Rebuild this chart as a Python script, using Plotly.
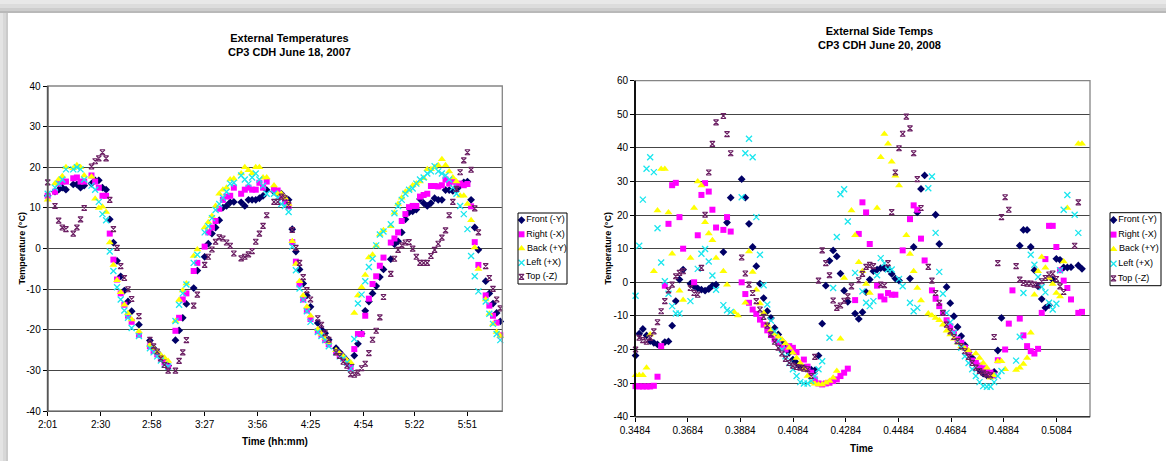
import plotly.graph_objects as go

W, H = 1166, 461

# ---------------- data: chart 1 (June 18, 2007) ----------------
series_names = ["Front (-Y)", "Right (-X)", "Back (+Y)", "Left (+X)", "Top (-Z)"]
tick_labels_1 = ["2:01", "2:30", "2:58", "3:27", "3:56", "4:25", "4:54", "5:22", "5:51"]

# time in minutes after midnight
time_1 = [
    121, 125, 127, 129, 131, 135, 137, 139, 141, 145,
    147, 149, 151, 153, 155, 157, 159, 161, 163, 165,
    167, 171, 177, 179, 181, 183, 185, 187, 191, 193,
    195, 197, 201, 203, 207, 209, 211, 213, 215, 217,
    219, 221, 223, 227, 229, 231, 233, 235, 237, 239,
    241, 245, 247, 249, 251, 253, 255, 257, 259, 261,
    263, 265, 269, 271, 273, 275, 279, 281, 283, 285,
    287, 289, 291, 293, 295, 297, 299, 301, 303, 305,
    309, 311, 313, 315, 317, 319, 321, 323, 325, 327,
    329, 331, 333, 335, 337, 339, 341, 343, 345, 347,
    349, 351, 353, 355, 357, 361, 363, 365, 367, 369,
]
front_1 = [
    13, 14, 14.5, 15, 14.5, 15.8, 15.8, 15, 15.5, 16,
    16.8, 16.8, 15, 14.5, 7.2, 1.5, -3, -6.8, -10.3, -13,
    -15.4, -18.7, -22.6, -24.5, -25.5, -26.5, -27.5, -28.8, -22.5, -20.1,
    -17, -13.6, -9.7, -5.4, -2, 1.2, 3.7, 5.2, 7, 10.1,
    10.5, 11.4, 11.5, 11.4, 10.5, 12, 12, 12, 12.4, 13,
    14.4, 14, 13.7, 13.5, 12.5, 12, 4.8, -0.7, -5.1, -8.6,
    -11.5, -14.3, -18.3, -19.9, -20.8, -22.4, -24.5, -25.5, -26.5, -27.5,
    -28.5, -26.3, -23.4, -20.9, -15.3, -13, -11, -9.2, -7, -5.1,
    -2.6, 1.1, 1.8, 4, 7.2, 8.9, 9.2, 9.6, 12.2, 11.2,
    10.5, 11.2, 12.4, 12, 12, 14.4, 14.4, 14.2, 14.6, 15.5,
    16.3, 16.5, 12, 5.2, -0.3, -8, -11, -13.5, -15.8, -17.9,
]
right_1 = [
    13, 14, 16, 16.5, 16.5, 17.3, 17.5, 16.5, 16.5, 18,
    16.5, 15, 13, 13, 3.7, -2.7, -7.6, -11, -13.8, -16.5,
    -18, -21.2, -24, -25.2, -26, -27, -28, -29, -20.2, -17,
    -12.5, -11, -5.5, -3.5, 0.5, 4, 5.2, 6.8, 9.8, 12,
    12.8, 13, 15, 13.5, 14.5, 15, 14.5, 14.5, 16.2, 15,
    16.5, 14.5, 14.3, 13, 11.5, 10.4, 1.6, -3.2, -8.8, -12.5,
    -15.2, -17.3, -20.3, -21.2, -22.5, -23.5, -25.5, -26.2, -27, -28,
    -29.3, -24.7, -21, -21, -16.5, -12.3, -8.7, -6.8, -4.2, -2.2,
    1.5, 2.5, 4, 6.8, 8.5, 10.2, 10.5, 10.5, 12.8, 13.2,
    13.5, 15.4, 15.4, 15.3, 15.6, 17, 16, 16.5, 15.8, 16,
    15.6, 15.9, 10.4, 1.6, -4, -11.5, -14, -16.5, -18.2, -21.3,
]
back_1 = [
    12, 16, 17, 17.8, 20, 19.8, 20.5, 20, 18, 17.7,
    12.3, 10, 10.3, 9, 1.5, -4, -7.8, -10.7, -13.8, -15.9,
    -17.4, -20.4, -23.7, -24.5, -25.4, -26.2, -26.8, -27.6, -17.8, -12.6,
    -10.3, -8.6, -1.8, -0.2, 5.2, 6.5, 8, 10.5, 13.5, 14.5,
    15, 17, 17.2, 18.5, 20, 19.3, 18.5, 20, 20, 17.5,
    17.5, 15.5, 13.5, 13.5, 12.5, 11, 1.8, -3.8, -8, -11.5,
    -14.3, -16.5, -19.8, -21, -22, -23, -25, -25.8, -26.5, -27.5,
    -28, -15.8, -11.5, -9.5, -6.5, -2.2, -1.5, 0.7, 3.5, 4.5,
    5.5, 8.8, 11, 12.5, 14, 14.5, 15.5, 16, 16.5, 17.3,
    19.5, 19.5, 20, 20.5, 22, 20.5, 19, 17.5, 16.5, 13,
    13, 11, 7, 0.3, -5, -12.5, -16, -18.5, -20.5, -21.5,
]
left_1 = [
    13.5, 15, 16, 17, 19.5, 19.5, 20, 19.5, 17, 15.5,
    14.5, 11.5, 8.5, 7, -0.7, -5.5, -9.5, -12.5, -15.2, -17,
    -19.5, -21.5, -24.5, -25.5, -26.5, -27.5, -28.5, -29, -17.8, -13.8,
    -11, -8.8, -3.5, -1.5, 4, 5.5, 7.5, 9.5, 11, 12.5,
    14, 16, 16.2, 18, 17, 16, 17.5, 18.5, 17, 15.5,
    13.5, 13.5, 12.5, 11, 10.5, 9, 0.5, -5.3, -9.8, -12.6,
    -15.4, -18, -20.5, -21.5, -22.5, -24, -25.5, -26.5, -27, -28,
    -29.5, -22.2, -13.5, -11.3, -8, -4.5, -2.5, 0.8, 3.5, 4.2,
    6, 8.7, 10.5, 12, 13.5, 14.5, 14.8, 16, 17, 17.5,
    18.5, 19, 20.3, 19, 18.5, 18, 17, 15, 13.5, 10.5,
    8.5, 4.8, -1.8, -6.8, -10.5, -13, -16, -18.5, -21, -22.5,
]
top_1 = [
    16.3, 10.5, 6.9, 5.2, 4.8, 3.7, 5.2, 7.2, 10, 20.2,
    21.5, 22.2, 23.7, 22.2, 12, 4.8, 0.2, -4.3, -7.2, -10,
    -12.4, -16.6, -22.4, -24, -25.3, -27, -28.6, -30, -30, -27.6,
    -25.5, -22.5, -14, -11.3, -4, -2, -0.2, 1.7, 2.8, 2.5,
    1.5, 0.7, -1.2, -2.4, -2, -1.4, -0.6, 1.7, 3.7, 5.6,
    8.2, 11.5, 11.5, 12.8, 12.4, 10.7, 4.6, 0.2, -3.5, -7,
    -10.2, -12.5, -17.1, -18.7, -20.8, -22.4, -25.5, -26.4, -27.8, -28.8,
    -30.9, -31, -30.5, -29.4, -28.3, -25.7, -22.4, -20.2, -16.9, -11.9,
    -6.2, -2.5, -0.3, 0.8, 1.5, 1.6, 0, -2, -3.5, -3.5,
    -3.5, -1.8, -0.3, 1.2, 2.7, 4.5, 8.2, 11.5, 14.7, 18.8,
    21.7, 23.7, 19.4, 9.9, 4, -4.3, -7.2, -9.9, -12.5, -14.7,
]

# ---------------- data: chart 2 (June 20, 2008) ----------------
tick_labels_2 = ["0.3484", "0.3684", "0.3884", "0.4084", "0.4284",
                 "0.4484", "0.4684", "0.4884", "0.5084"]
time_2_min = [
    502, 504, 506, 508, 510, 512, 514, 516, 518, 520,
    522, 524, 526, 528, 530, 532, 534, 536, 538, 540,
    542, 544, 546, 548, 550, 552, 554, 556, 558, 560,
    562, 564, 566, 568, 570, 572, 574, 576, 578, 580,
    582, 584, 586, 588, 590, 592, 594, 596, 598, 600,
    602, 604, 606, 608, 610, 612, 614, 616, 618, 620,
    622, 624, 626, 628, 630, 632, 634, 636, 638, 640,
    642, 644, 646, 648, 650, 652, 654, 656, 658, 660,
    662, 664, 666, 668, 670, 672, 674, 676, 678, 680,
    682, 684, 686, 688, 690, 692, 694, 696, 698, 700,
    702, 704, 706, 708, 710, 712, 714, 716, 718, 720,
    722, 724, 726, 728, 730, 732, 734, 736, 738, 740,
    742, 744, 746,
]
N = None
front_2 = [
    -21.8, -15.3, -13.9, -15.8, -17.5, -18, -18.5, N, -17.8, -17.6,
    -12.9, -5.6, 0.8, 3.8, N, -0.4, -1.2, -1.8, -2.2, -2.5,
    -2, -1, -0.7, N, 9.0, 17.8, 25.2, N, N, 30.7,
    25.2, 17.4, 10.5, 4.8, -0.4, -4.7, -8.6, -10.6, -13.6, -15.5,
    -17.5, -19.5, -21, -23, -24, -25, -25.4, -25.7, -26, -26.2,
    -21.8, -12.3, -1, 6.4, 9.5, 7.7, 2.6, -2.5, -5.8, N,
    -9.3, -10.9, -8.9, -2.9, 0.8, 3.3, 3.8, 4.2, 4.2, 4,
    2.5, 1.1, 0.5, N, N, 1.1, 10.5, 20.8, 27.8, 31.8,
    N, N, 20.1, 11.4, N, -1.4, -6.2, -10.1, -13.3, -16,
    -18.7, -20.8, -22.5, N, -26.1, -27.2, -27.7, -27.9, -26.7, -20.3,
    -10.6, N, N, N, N, 10.9, 15.6, 15.6, 10.5, 3.6,
    -1.2, -5, -7.6, -6.8, 0.8, 7, 6.7, 4.4, 4.4, 4.5,
    N, 5, 4,
]
right_2 = [
    -30.9, -31, -31, -31, -31, -30.8, -28.1, -19, -1, 17.4,
    28.9, 29.6, 19.4, 10, N, N, 0, 14, 26, 29.5,
    27, 21.6, 16.3, N, 15.6, 19.4, 15.1, N, N, 0,
    -3.5, -6.1, -8.1, -9.4, -11.1, -12.6, -14.3, -15.7, -17, -18,
    -19.5, -20, -19, -19.5, -20.8, N, -23, -25.1, -26.9, -28.9,
    -30.1, -30.4, -30.1, -29.9, -29.4, -28.9, -27.9, -26.9, -25.7, N,
    -5.3, 14.4, 23.8, 20.8, 11.4, N, -1, -4.2, -5.1, -3.2,
    -3.7, -3.7, N, 9.5, N, 18.8, 22.9, 21.6, 13, 6.5,
    N, -2.4, -4.9, -7.1, -9.1, -11.3, -13.1, -15, -17, -18,
    -19.5, -21, -23.3, -24, -24.8, -25.6, -26.4, -26.9, -27.7, -23.2,
    N, -20, -12.3, -2.4, N, -10.8, -15.8, -19, -20.5, -21.2,
    -19.8, -9.1, 6.9, 16.8, 16.8, 10.5, 3.6, 0.5, -1.7, -5.1,
    N, -9.1, -8.8,
]
back_2 = [
    -27.7, -27.7, -27.7, -25.4, -15.5, 3.3, 21.4, 33.7, 33.7, 20.8,
    8.5, N, -2.5, -5.3, N, 7.2, 22.1, 30, 28.8, 17.9,
    14.5, 12.5, 7.2, N, 3.3, -0.7, N, -8.9, -9.9, N,
    -6.1, 9.2, 3.1, -2.2, -6.3, -9.1, -12.6, -14.3, -15.3, -16.2,
    -17, -18.2, -19.5, -21, -22.5, -24, -25.9, -27.9, -29.7, -30.2,
    -30.4, -30.4, -29.9, -29.4, -28.4, -26.4, -16.8, 1.3, N, 21.4,
    14, 6, 3.3, -0.5, -3.2, N, 22.1, 37.2, 44.1, 41.2,
    35.9, 31.7, 28.8, N, 14, 8.4, 3.3, -1.7, -5.4, N,
    -9.3, -9.9, -10.6, -11.3, -12.6, -14.4, -15.5, -16.8, -18, -19,
    -19.7, -20.3, N, -21.2, -22.5, -24, -25.4, -28.4, -27.7, -23.5,
    -23.5, -25.9, N, N, -26.1, -25.4, -24.3, -22.5, -15, -3.7,
    3.3, 7.5, 4.3, 1.3, -0.5, -3.2, -4.2, 6.2, 22.1, N,
    N, 41.2, 41.2,
]
left_2 = [
    -4, 10.9, 24.6, 33.8, 37.2, 32.8, 16.1, 5.9, 0.3, -3.4,
    -7.1, -9.3, -9.3, N, N, -5.6, N, 4, 8.5, 9.9,
    6.2, 2, -2.2, N, -6.8, -8.3, -8.8, N, N, 25.3,
    38.4, 42.7, 37.2, 19.4, 8.2, -0.9, -6.6, -11.4, -14.6, -17.5,
    -20, -22, -24, -25.9, -27.9, -29.7, -30.1, -30.1, -29.4, -27.9,
    -25.9, -23.5, N, -16.5, -1.7, 13.5, 26.2, 27.7, 18.1, N,
    2.8, N, -2.7, -6.1, -7.1, -5.6, 2.1, 7.2, 5.7, 3.8,
    3.8, N, 1, -1.2, N, -6.1, -8.6, -7.6, N, N,
    28, 31.5, 14.7, 3.1, -3.4, -9.1, -11.9, -15, -17.5, -19.5,
    -22, -24, -25.9, -27.9, -29.7, -30.9, -31.1, -31.1, -29.7, -27.9,
    -26.4, N, N, N, -23.3, -16.2, -3.2, N, 8.2, 5.2,
    1.6, -1.4, -3, -6.1, -8.1, -6.4, 3.6, 21.6, 26, N,
    20.1, 14.7, N,
]
top_2 = [
    -20, -16.5, -17.2, -17.7, -16.5, -14.6, -11.9, -8.6, -5.6, -2.4,
    -0.7, 1.8, 2.8, 3.3, N, -1.7, -3.2, -3.7, 4.3, 20.1,
    32.7, 41.2, 47.6, N, 49.5, 44.1, 38.4, N, N, 7.4,
    2.6, -0.7, -3.2, -5.6, -8.1, -10.3, -12.9, -15.5, -17.7, -19.5,
    -21.2, -22.8, -24, -24.8, -25.2, -25.4, -25.7, -25.9, -27.9, -22.2,
    0.5, 9.5, 5.7, 2.1, -5.4, -7.6, -6.9, -5.5, -4.2, -1.2,
    N, 0.6, 2.5, 4.6, 5.2, 4.8, N, -0.7, -0.9, 5.7,
    20.9, 32.7, 39.9, 44.2, 49.3, 45.8, 38.4, 30.7, 22.1, N,
    4.6, 0.5, -3.2, -6.1, -9.1, -12.6, -14.6, -16.3, -17.5, -19,
    -20.5, -22.2, -24, -25.4, -26.4, -26.9, -27.4, -27.7, -16.3, 5.7,
    19.4, 25.3, 21.6, N, 4.8, 0.8, -0.2, -0.4, -0.4, -0.7,
    -0.9, 0.3, 1.3, 2.3, 2.6, 1, -1.2, -2.9, N, N,
    10.9, 23.8, N,
]

y_ticks_1 = [-40, -30, -20, -10, 0, 10, 20, 30, 40]
y_ticks_2 = [-40, -30, -20, -10, 0, 10, 20, 30, 40, 50, 60]

for arr in (front_1, right_1, back_1, left_1, top_1):
    assert len(arr) == len(time_1), len(arr)
for arr in (front_2, right_2, back_2, left_2, top_2):
    assert len(arr) == len(time_2_min), len(arr)

# ---------------- styling ----------------
NARROW = "Liberation Sans Narrow, Arial Narrow, Liberation Sans, Arial, sans-serif"
SANS = "Liberation Sans, Arial, sans-serif"

STYLES = [
    dict(symbol="diamond", size=6, color="#000066", line=dict(width=0)),
    dict(symbol="square", size=6, color="#ff00ff", line=dict(width=0)),
    dict(symbol="triangle-up", size=7, color="#ffff00", line=dict(width=0)),
    dict(symbol="x-thin-open", size=6, color="#19e6ee", line=dict(width=1.3, color="#19e6ee")),
    dict(symbol="hourglass-open", size=5, color="#6b1f63", line=dict(width=1.1, color="#6b1f63")),
]


def fx(p):
    return p / W


def fy(p):
    return 1 - p / H


PLOT1 = dict(l=47.7, r=502.3, t=86.0, b=411.3)
PLOT2 = dict(l=635.0, r=1090.0, t=80.7, b=416.7)
LEG1 = dict(l=518, r=567, t=213, b=284)
LEG2 = dict(l=1110, r=1161, t=212.7, b=285.7)


def hm_to_min(s):
    h, m = s.split(":")
    return int(h) * 60 + int(m)


fig = go.Figure()

data1 = [front_1, right_1, back_1, left_1, top_1]
data2 = [front_2, right_2, back_2, left_2, top_2]
time_2 = [m / 1440.0 for m in time_2_min]

for name, vals, st in zip(series_names, data1, STYLES):
    fig.add_trace(go.Scatter(x=time_1, y=vals, mode="markers", name=name,
                             marker=st, xaxis="x", yaxis="y", showlegend=False,
                             cliponaxis=False))
for name, vals, st in zip(series_names, data2, STYLES):
    fig.add_trace(go.Scatter(x=time_2, y=vals, mode="markers", name=name,
                             marker=st, xaxis="x2", yaxis="y2", showlegend=False,
                             cliponaxis=False))

# custom legends (drawn in small helper axes measured in pixels)
for ax_x, ax_y, box in (("x3", "y3", LEG1), ("x4", "y4", LEG2)):
    h = box["b"] - box["t"]
    step = h / len(series_names)
    for i, (name, st) in enumerate(zip(series_names, STYLES)):
        fig.add_trace(go.Scatter(
            x=[3.5], y=[step * (i + 0.5)], mode="markers+text", text=[name],
            textposition="middle right",
            textfont=dict(family=NARROW, size=9, color="#000"),
            marker=st, xaxis=ax_x, yaxis=ax_y, showlegend=False, cliponaxis=False,
            hoverinfo="skip"))

axis_font = dict(family=NARROW, size=10, color="#000")
common = dict(zeroline=False, showline=False, ticks="outside", ticklen=4,
              tickwidth=1, tickcolor="#000", tickfont=axis_font,
              fixedrange=True, automargin=False)
grid = dict(showgrid=True, gridcolor="#454545", gridwidth=1.3)

layout = dict(
    width=W, height=H,
    margin=dict(l=0, r=0, t=0, b=0, pad=0),
    paper_bgcolor="white", plot_bgcolor="white",
    showlegend=False,
    xaxis=dict(domain=[fx(PLOT1["l"]), fx(PLOT1["r"])], anchor="y",
               range=[121, 370.1], tickmode="array",
               tickvals=[hm_to_min(t) for t in tick_labels_1],
               ticktext=tick_labels_1, showgrid=False, **common),
    yaxis=dict(domain=[fy(PLOT1["b"]), fy(PLOT1["t"])], anchor="x",
               range=[-40, 40], tickmode="array", tickvals=y_ticks_1,
               ticktext=[str(v) for v in y_ticks_1], **grid, **common),
    xaxis2=dict(domain=[fx(PLOT2["l"]), fx(PLOT2["r"])], anchor="y2",
                range=[0.3484, 0.5211], tickmode="array",
                tickvals=[float(t) for t in tick_labels_2],
                ticktext=tick_labels_2, showgrid=False, **common),
    yaxis2=dict(domain=[fy(PLOT2["b"]), fy(PLOT2["t"])], anchor="x2",
                range=[-40, 60], tickmode="array", tickvals=y_ticks_2,
                ticktext=[str(v) for v in y_ticks_2], **grid, **common),
)
for idx, box in ((3, LEG1), (4, LEG2)):
    layout[f"xaxis{idx}"] = dict(domain=[fx(box["l"]), fx(box["r"])],
                                 anchor=f"y{idx}", range=[0, box["r"] - box["l"]],
                                 visible=False, fixedrange=True)
    layout[f"yaxis{idx}"] = dict(domain=[fy(box["b"]), fy(box["t"])],
                                 anchor=f"x{idx}", range=[box["b"] - box["t"], 0],
                                 visible=False, fixedrange=True)
fig.update_layout(**layout)

shapes = []


def rect(x0, y0, x1, y1, fill=None, line_color=None, lw=0, layer="above"):
    d = dict(type="rect", xref="paper", yref="paper",
             x0=fx(x0), x1=fx(x1), y0=fy(y1), y1=fy(y0), layer=layer,
             line=dict(width=lw, color=line_color or "rgba(0,0,0,0)"))
    if fill:
        d["fillcolor"] = fill
    return d


def hline(x0, x1, y, color, lw):
    return dict(type="line", xref="paper", yref="paper", x0=fx(x0), x1=fx(x1),
                y0=fy(y), y1=fy(y), line=dict(color=color, width=lw), layer="above")


def vline(x, y0, y1, color, lw):
    return dict(type="line", xref="paper", yref="paper", x0=fx(x), x1=fx(x),
                y0=fy(y0), y1=fy(y1), line=dict(color=color, width=lw), layer="above")


# screenshot frame (grey band at top and at the left)
for (a, b, c) in ((0, 4, "#e8e8e8"), (4, 8, "#dcdcdc"), (8, 11, "#cdcdcd"), (11, 13, "#b9b9b9")):
    shapes.append(rect(0, a, W, b, fill=c))
for (a, b, c) in ((0, 3, "#e4e4e4"), (3, 6, "#d8d8d8"), (6, 8, "#cbcbcb")):
    shapes.append(rect(a, 13, b, H, fill=c))

# plot frames
for P, left_col, bottom_col in ((PLOT1, "#555555", "#666666"), (PLOT2, "#000000", "#333333")):
    shapes.append(rect(P["l"], P["t"], P["r"], P["b"], line_color="#858585", lw=1.3))
    shapes.append(vline(P["l"], P["t"], P["b"], left_col, 1.8))
    shapes.append(hline(P["l"], P["r"], P["b"], bottom_col, 1.5))

# legend boxes
for box in (LEG1, LEG2):
    shapes.append(rect(box["l"], box["t"], box["r"], box["b"], line_color="#000000", lw=1))

fig.update_layout(shapes=shapes)

ann = []
title_font = dict(family=NARROW, size=11, color="#000")
ann.append(dict(text="<b>External Temperatures</b><br><b>CP3 CDH June 18, 2007</b>",
                x=fx(289), y=fy(45), xref="paper", yref="paper", showarrow=False,
                xanchor="center", yanchor="middle", font=title_font))
ann.append(dict(text="<b>External Side Temps</b><br><b>CP3 CDH June 20, 2008</b>",
                x=fx(879), y=fy(37.5), xref="paper", yref="paper", showarrow=False,
                xanchor="center", yanchor="middle", font=title_font))
ann.append(dict(text="<b>Temperature (°C)</b>", x=fx(21.5), y=fy(249), xref="paper",
                yref="paper", showarrow=False, textangle=-90, xanchor="center",
                yanchor="middle", font=dict(family=SANS, size=9, color="#000")))
ann.append(dict(text="<b>Temperature (°C)</b>", x=fx(607.5), y=fy(248), xref="paper",
                yref="paper", showarrow=False, textangle=-90, xanchor="center",
                yanchor="middle", font=dict(family=SANS, size=9, color="#000")))
ann.append(dict(text="<b>Time (hh:mm)</b>", x=fx(275), y=fy(441), xref="paper",
                yref="paper", showarrow=False, xanchor="center", yanchor="middle",
                font=dict(family=NARROW, size=10, color="#000")))
ann.append(dict(text="<b>Time</b>", x=fx(862), y=fy(448), xref="paper",
                yref="paper", showarrow=False, xanchor="center", yanchor="middle",
                font=dict(family=NARROW, size=10, color="#000")))
fig.update_layout(annotations=ann)

fig.write_html("out.html")
